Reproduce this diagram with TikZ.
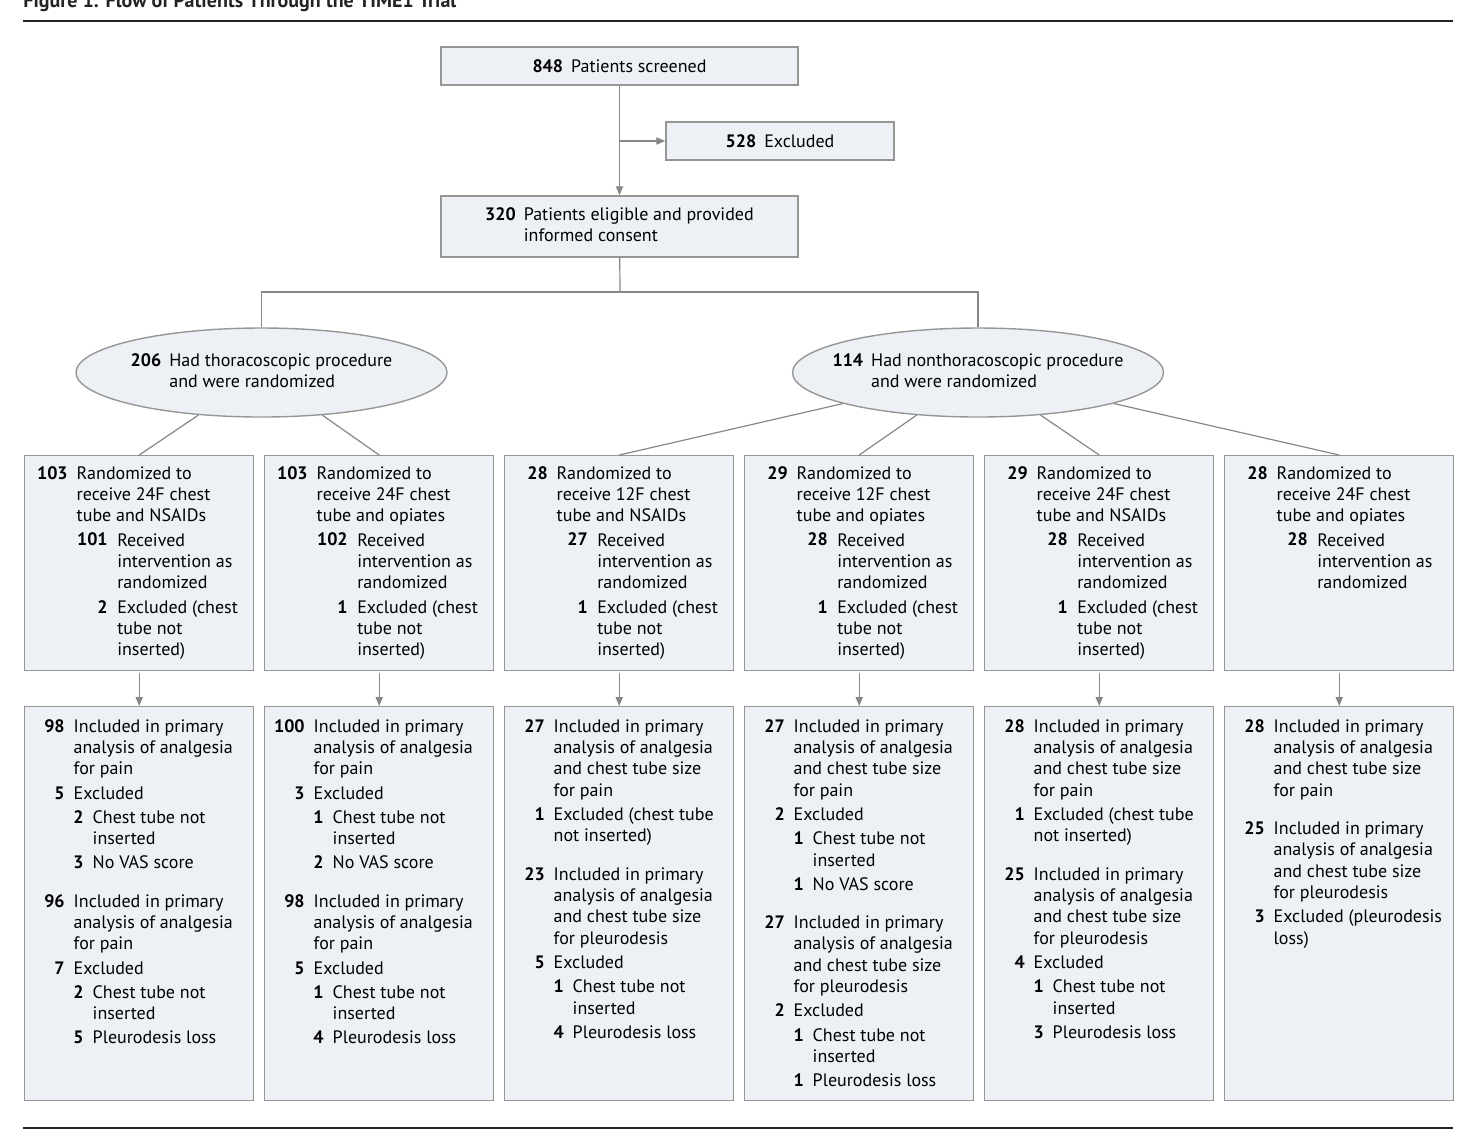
\documentclass[tikz,border=0pt]{standalone}
\usepackage{fontspec}
\setmainfont{PT Sans}
\usetikzlibrary{shapes.geometric,arrows.meta}

\definecolor{boxfill}{RGB}{237,241,245}
\definecolor{boxline}{RGB}{150,150,150}
\definecolor{wirecol}{RGB}{135,135,135}
\definecolor{rulecol}{RGB}{35,35,35}

% one numbered line: number column, text column, number, text
\newcommand{\ent}[4]{\par\hangindent=#2\hangafter=1\noindent\strut\makebox[#1][r]{\textbf{#3}}\hspace{\dimexpr#2-#1\relax}#4}
\newcommand{\armA}[2]{\ent{21.5pt}{26pt}{#1}{#2}}
\newcommand{\armB}[2]{\ent{41.5pt}{46.3pt}{#1}{#2}}
\newcommand{\outA}[2]{\ent{20pt}{24.5pt}{#1}{#2}}
\newcommand{\outB}[2]{\ent{29.5pt}{34pt}{#1}{#2}}
\newcommand{\grpgap}{\par\vspace{7pt}}
\newcommand{\armbody}[3]{\parbox[c][#1][t]{114.5pt}{\parskip=1.4pt\vspace*{#2}#3\par}}

\begin{document}
\begin{tikzpicture}
  [x=0.5pt,y=-0.5pt,
   every node/.style={font=\fontsize{9pt}{10.7pt}\selectfont,inner sep=0pt},
   box/.style={draw=boxline,fill=boxfill,line width=0.7pt},
   arm/.style={box,anchor=north west},
   oval/.style={box,ellipse,minimum width=185.5pt,minimum height=44.5pt},
   wire/.style={draw=wirecol,line width=0.6pt},
   feed/.style={wire,-{Triangle[length=4.5pt,width=3.6pt]}}]
  \useasboundingbox (0,0) rectangle (1475,1132);

  \node[anchor=base west,font=\bfseries\fontsize{10pt}{12pt}\selectfont,text=rulecol] (title) at (23,7) {Figure 1. Flow of Patients Through the TIME1 Trial};
  \draw[rulecol,line width=1pt] (23,21) -- (1453,21);
  \draw[rulecol,line width=1pt] (23,1128) -- (1453,1128);

  \node[box,minimum width=178.5pt,minimum height=19pt] (screen) at (619.5,66) {\textbf{848}\hspace{4pt}Patients screened};
  \node[box,minimum width=114pt,minimum height=19pt] (excl) at (780,141) {\textbf{528}\hspace{4pt}Excluded};
  \node[box,minimum width=178.5pt,minimum height=30.5pt] (elig) at (619.5,226.5)
    {\begin{tabular}{@{}r@{\hspace{4pt}}l@{}}\textbf{320} & Patients eligible and provided\\ & informed consent\end{tabular}};

  \node[oval] (thor) at (261.5,372.5)
    {\makebox[0pt]{\begin{tabular}{@{}r@{\hspace{4pt}}l@{}}\textbf{206} & Had thoracoscopic procedure\\ & and were randomized\end{tabular}}};
  \node[oval] (nonthor) at (978,372.5)
    {\makebox[0pt]{\begin{tabular}{@{}r@{\hspace{4pt}}l@{}}\textbf{114} & Had nonthoracoscopic procedure\\ & and were randomized\end{tabular}}};

  % randomized arms
  \node[arm] (r1a) at (24,455) {\armbody{107.5pt}{2.75pt}{%
    \armA{103}{Randomized to\\receive 24F chest\\tube and NSAIDs}
    \armB{101}{Received\\intervention as\\randomized}
    \armB{2}{Excluded (chest\\tube not\\inserted)}}};
  \node[arm] (r1b) at (264,455) {\armbody{107.5pt}{2.75pt}{%
    \armA{103}{Randomized to\\receive 24F chest\\tube and opiates}
    \armB{102}{Received\\intervention as\\randomized}
    \armB{1}{Excluded (chest\\tube not\\inserted)}}};
  \node[arm] (r1c) at (504,455) {\armbody{107.5pt}{2.75pt}{%
    \armA{28}{Randomized to\\receive 12F chest\\tube and NSAIDs}
    \armB{27}{Received\\intervention as\\randomized}
    \armB{1}{Excluded (chest\\tube not\\inserted)}}};
  \node[arm] (r1d) at (744,455) {\armbody{107.5pt}{2.75pt}{%
    \armA{29}{Randomized to\\receive 12F chest\\tube and opiates}
    \armB{28}{Received\\intervention as\\randomized}
    \armB{1}{Excluded (chest\\tube not\\inserted)}}};
  \node[arm] (r1e) at (984,455) {\armbody{107.5pt}{2.75pt}{%
    \armA{29}{Randomized to\\receive 24F chest\\tube and NSAIDs}
    \armB{28}{Received\\intervention as\\randomized}
    \armB{1}{Excluded (chest\\tube not\\inserted)}}};
  \node[arm] (r1f) at (1224,455) {\armbody{107.5pt}{2.75pt}{%
    \armA{28}{Randomized to\\receive 24F chest\\tube and opiates}
    \armB{28}{Received\\intervention as\\randomized}}};

  % analysed
  \node[arm] (r2a) at (24,706) {\armbody{197pt}{3.75pt}{%
    \outA{98}{Included in primary\\analysis of analgesia\\for pain}
    \outA{5}{Excluded}
    \outB{2}{Chest tube not\\inserted}
    \outB{3}{No VAS score}\grpgap
    \outA{96}{Included in primary\\analysis of analgesia\\for pain}
    \outA{7}{Excluded}
    \outB{2}{Chest tube not\\inserted}
    \outB{5}{Pleurodesis loss}}};
  \node[arm] (r2b) at (264,706) {\armbody{197pt}{3.75pt}{%
    \outA{100}{Included in primary\\analysis of analgesia\\for pain}
    \outA{3}{Excluded}
    \outB{1}{Chest tube not\\inserted}
    \outB{2}{No VAS score}\grpgap
    \outA{98}{Included in primary\\analysis of analgesia\\for pain}
    \outA{5}{Excluded}
    \outB{1}{Chest tube not\\inserted}
    \outB{4}{Pleurodesis loss}}};
  \node[arm] (r2c) at (504,706) {\armbody{197pt}{3.75pt}{%
    \outA{27}{Included in primary\\analysis of analgesia\\and chest tube size\\for pain}
    \outA{1}{Excluded (chest tube\\not inserted)}\grpgap
    \outA{23}{Included in primary\\analysis of analgesia\\and chest tube size\\for pleurodesis}
    \outA{5}{Excluded}
    \outB{1}{Chest tube not\\inserted}
    \outB{4}{Pleurodesis loss}}};
  \node[arm] (r2d) at (744,706) {\armbody{197pt}{3.75pt}{%
    \outA{27}{Included in primary\\analysis of analgesia\\and chest tube size\\for pain}
    \outA{2}{Excluded}
    \outB{1}{Chest tube not\\inserted}
    \outB{1}{No VAS score}\grpgap
    \outA{27}{Included in primary\\analysis of analgesia\\and chest tube size\\for pleurodesis}
    \outA{2}{Excluded}
    \outB{1}{Chest tube not\\inserted}
    \outB{1}{Pleurodesis loss}}};
  \node[arm] (r2e) at (984,706) {\armbody{197pt}{3.75pt}{%
    \outA{28}{Included in primary\\analysis of analgesia\\and chest tube size\\for pain}
    \outA{1}{Excluded (chest tube\\not inserted)}\grpgap
    \outA{25}{Included in primary\\analysis of analgesia\\and chest tube size\\for pleurodesis}
    \outA{4}{Excluded}
    \outB{1}{Chest tube not\\inserted}
    \outB{3}{Pleurodesis loss}}};
  \node[arm] (r2f) at (1224,706) {\armbody{197pt}{3.75pt}{%
    \outA{28}{Included in primary\\analysis of analgesia\\and chest tube size\\for pain}\grpgap
    \outA{25}{Included in primary\\analysis of analgesia\\and chest tube size\\for pleurodesis}
    \outA{3}{Excluded (pleurodesis\\loss)}}};

  \coordinate (split) at (screen.south |- excl.west);
  \coordinate (fork) at (620,292);

  \draw[feed] (screen) -- (elig);
  \draw[feed] (split) -- (excl);
  \draw[wire] (elig) -- (fork);
  \draw[wire] (thor) |- (fork) -| (nonthor);

  \foreach \from/\to in {thor/r1a, thor/r1b, nonthor/r1c, nonthor/r1d, nonthor/r1e, nonthor/r1f}
    \draw[wire] (\from) -- (\to.north);

  \foreach \i in {a,b,c,d,e,f}
    \draw[feed,shorten <=1pt] (r1\i) -- (r2\i);

\end{tikzpicture}
\end{document}
